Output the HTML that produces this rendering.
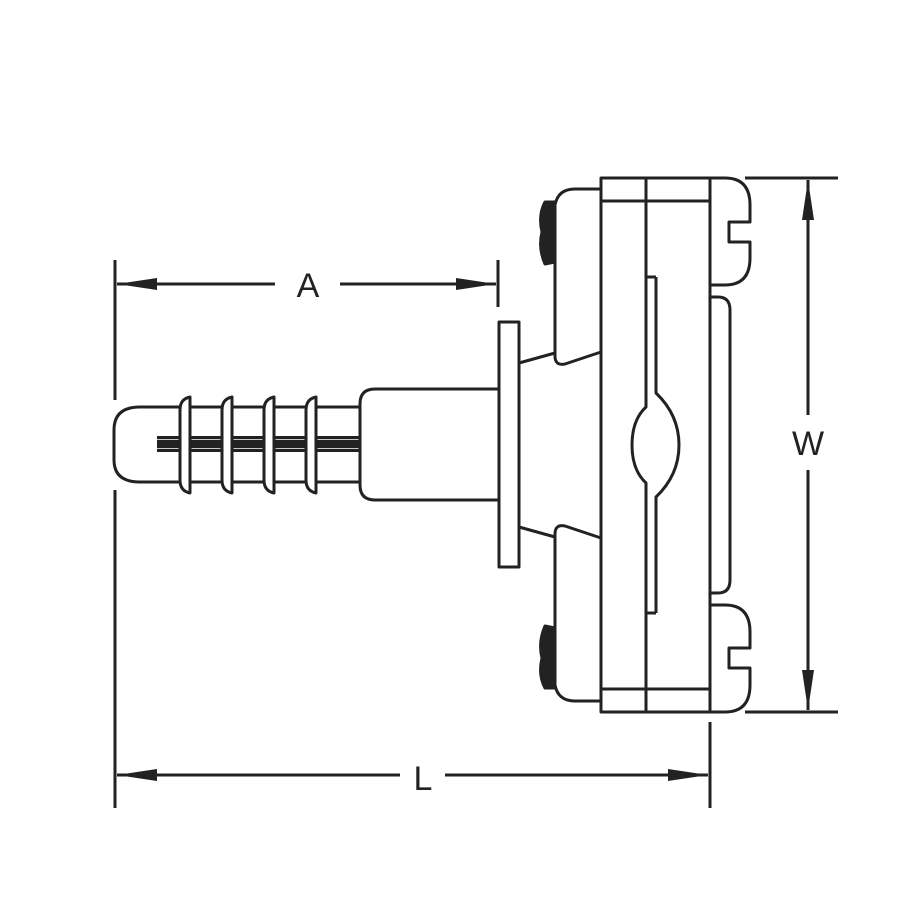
<!DOCTYPE html>
<html><head><style>html,body{margin:0;background:#fff}svg{display:block}</style></head><body>
<svg width="900" height="900" viewBox="0 0 900 900" xmlns="http://www.w3.org/2000/svg">
<defs>
<marker id="ar" markerWidth="40" markerHeight="12" refX="40" refY="6" orient="auto" markerUnits="userSpaceOnUse">
<path d="M0,0 L40,6 L0,12 z" fill="#222"/></marker>
</defs>
<g fill="none" stroke="#222" stroke-width="3" stroke-linejoin="round">
<line x1="115" y1="260" x2="115" y2="400"/>
<line x1="115" y1="490" x2="115" y2="808"/>
<line x1="498" y1="260" x2="498" y2="307"/>
<line x1="275" y1="284" x2="117" y2="284" marker-end="url(#ar)"/>
<line x1="340" y1="284" x2="496" y2="284" marker-end="url(#ar)"/>
<line x1="400" y1="775" x2="117" y2="775" marker-end="url(#ar)"/>
<line x1="445" y1="775" x2="708" y2="775" marker-end="url(#ar)"/>
<line x1="710" y1="722" x2="710" y2="808"/>
<line x1="745" y1="178" x2="838" y2="178"/>
<line x1="745" y1="712" x2="838" y2="712"/>
<line x1="808" y1="415" x2="808" y2="180" marker-end="url(#ar)"/>
<line x1="808" y1="470" x2="808" y2="710" marker-end="url(#ar)"/>

<path d="M180,407 L140,407 Q114,407 114,430 L114,460 Q114,482 140,482 L180,482"/>
<line x1="180" y1="407" x2="360" y2="407"/>
<line x1="180" y1="482" x2="360" y2="482"/>
<rect x="157" y="436" width="203" height="16" fill="#222" stroke="none"/>
<line x1="157" y1="439.5" x2="360" y2="439.5" stroke="#fff" stroke-width="0.8"/>
<line x1="157" y1="448.5" x2="360" y2="448.5" stroke="#fff" stroke-width="0.8"/>
<g fill="#fff">
<path d="M190,397 Q180,399 180,410 L180,480 Q180,491 190,493 Z"/>
<path d="M232,397 Q222,399 222,410 L222,480 Q222,491 232,493 Z"/>
<path d="M274,397 Q264,399 264,410 L264,480 Q264,491 274,493 Z"/>
<path d="M316,397 Q306,399 306,410 L306,480 Q306,491 316,493 Z"/>
</g>
<path d="M498,389 L375,389 Q360,389 360,404 L360,485 Q360,500 375,500 L498,500" fill="#fff"/>
<rect x="499" y="322" width="20" height="245" fill="#fff"/>

<g id="half">
<path d="M519,363 L555,353"/>
<path d="M601,352 L565,364 Q555,366 555,356 L555,205 Q558,189 575,189 L601,189"/>
<path d="M545,202 Q538,215 542,232 Q538,248 545,264 L555,262 L555,202 Z" fill="#222"/>
<path d="M710,178 L725,178 Q750,178 750,205 L750,222 L729,222 L729,242 L750,242 L750,258 Q750,285 725,285 L710,285"/>
<path d="M710,297 L718,297 Q730,297 730,310 L730,445"/>
<line x1="601" y1="201" x2="710" y2="201"/>
<path d="M646,178 L646,407 Q632,420 632,445"/>
<path d="M656,277 L646,277 M656,277 L656,393 Q679,415 679,445"/>
</g>
<use href="#half" transform="translate(0,890) scale(1,-1)"/>
<rect x="601" y="178" width="109" height="534"/>
</g>
<g font-family="Liberation Sans, sans-serif" font-size="34" fill="#222" text-anchor="middle">
<text x="308" y="297">A</text>
<text x="808" y="455">W</text>
<text x="423" y="790">L</text>
</g>
</svg>
</body></html>
